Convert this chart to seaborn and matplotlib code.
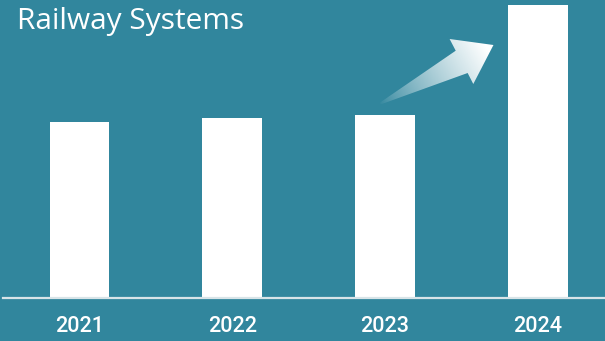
import matplotlib.pyplot as plt
import seaborn as sns
import pandas as pd
import numpy as np
from matplotlib.patches import Polygon

# Data
years = ['2021', '2022', '2023', '2024']
values = [176, 180, 183, 293]
title = 'Railway Systems'

bg = '#31869D'
df = pd.DataFrame({'Year': years, 'Value': values})

sns.set_theme(style='white')
fig = plt.figure(figsize=(6.05, 3.41), dpi=100, facecolor=bg)
ax = fig.add_axes([3 / 605, 43 / 341, 602 / 605, 298 / 341])
ax.set_facecolor('none')

sns.barplot(data=df, x='Year', y='Value', ax=ax, color='white', width=0.39,
            saturation=1, edgecolor='none')
ax.set_xlim(-0.5, 3.44)
ax.set_ylim(0, 298)
ax.set_xlabel('')
ax.set_ylabel('')
ax.set_yticks([])
for s in ['top', 'right', 'left']:
    ax.spines[s].set_visible(False)
ax.spines['bottom'].set_color('#D8E4E8')
ax.spines['bottom'].set_linewidth(1.6)
ax.tick_params(axis='x', length=0, pad=13, labelsize=15.5, labelcolor='white')
for lbl in ax.get_xticklabels():
    lbl.set_fontfamily(['Roboto', 'DejaVu Sans'])
    lbl.set_fontweight('medium')

# gradient arrow between the 2023 and 2024 bars
verts = np.array([(1.925, 191), (2.463, 247.3), (2.423, 259), (2.71, 253),
                  (2.578, 214), (2.541, 225)])
arrow = Polygon(verts, closed=True, facecolor='none', edgecolor='none',
                transform=ax.transData)
ax.add_patch(arrow)
x0, x1 = verts[:, 0].min(), verts[:, 0].max()
y0, y1 = verts[:, 1].min(), verts[:, 1].max()
n = 200
gx = np.linspace(0, 1, n)
grad = np.zeros((n, n, 4))
grad[..., :3] = 1.0
gxx, gyy = np.meshgrid(gx, gx)
t = np.clip(0.75 * gxx + 0.25 * gyy, 0, 1)
grad[..., 3] = np.clip(t * 1.15 - 0.05, 0, 1) ** 0.8
im = ax.imshow(grad, extent=(x0, x1, y0, y1), origin='lower', aspect='auto',
               zorder=3, interpolation='bilinear')
im.set_clip_path(arrow)

fig.text(17 / 605, 1 - 21 / 341, title, color='white', fontsize=21.5,
         family='Open Sans', va='center', ha='left')

fig.savefig('out.png', dpi=100, facecolor=bg)
